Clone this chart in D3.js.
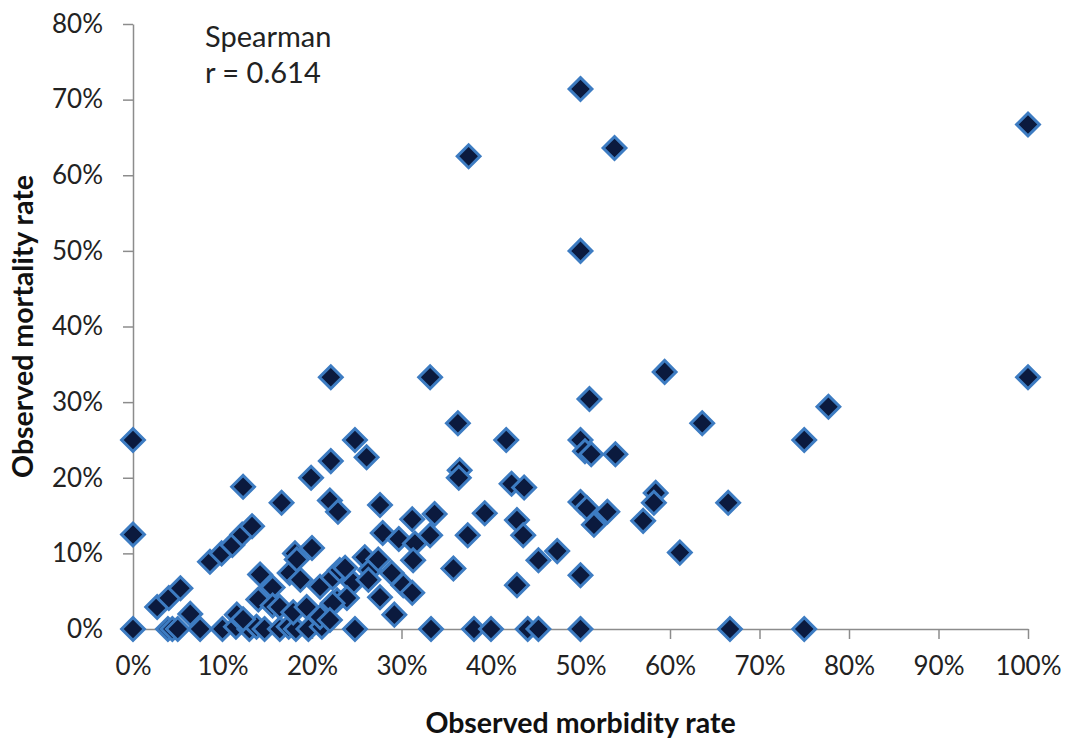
<!DOCTYPE html>
<html>
<head>
<meta charset="utf-8">
<script src="https://cdn.jsdelivr.net/npm/d3@7"></script>
<style>
  html, body { margin: 0; padding: 0; background: #fff; }
  svg { display: block; font-family: Lato, "Open Sans", sans-serif; }
</style>
</head>
<body>
<svg id="chart" width="1070" height="739"></svg>
<script>
// Observed morbidity rate (%) per unit
const morbidity = [
  0, 0, 0, 2.7, 4.0, 5.3, 6.4, 3.9, 4.4, 5.0,
  7.5, 10.0, 11.5, 13.0, 13.8, 14.7, 16.4, 17.4, 18.2, 19.6,
  21.1, 24.8, 33.3, 38.1, 40.0, 44.1, 45.3, 50, 66.7, 75,
  11.6, 12.3, 8.6, 9.9, 11.1, 12.2, 13.3, 12.3, 14.2, 15.6,
  14.0, 15.6, 16.4, 17.9, 19.4, 20.9, 22.8, 17.5, 18.7, 20.9,
  22.3, 23.1, 24.6, 25.9, 26.5, 18.1, 18.3, 20.0, 16.6, 19.9,
  22.1, 22.0, 22.9, 24.8, 26.1, 22.1, 33.2, 27.6, 31.2, 33.7,
  27.9, 29.7, 31.5, 33.2, 31.3, 35.8, 27.4, 28.9, 26.3, 30.2,
  31.2, 27.6, 23.9, 22.3, 29.2, 22.0, 23.7, 39.3, 37.4, 42.9,
  43.6, 45.3, 47.4, 50, 42.9, 36.3, 36.5, 36.4, 41.7, 42.3,
  43.7, 37.5, 50, 50, 53.8, 59.4, 51.0, 50, 50.5, 51.2,
  53.9, 50, 50.7, 53.0, 51.5, 57.0, 58.4, 58.2, 61.1, 63.6,
  66.5, 75, 77.7, 100, 100
];

// Observed mortality rate (%) per unit, same order
const mortality = [
  0, 12.5, 25, 2.9, 4.1, 5.4, 2.0, 0, 0, 0,
  0, 0, 0.3, 0, 0.3, 0, 0, 0.3, 0, 0,
  0.3, 0, 0, 0, 0, 0, 0, 0, 0, 0,
  1.9, 1.3, 8.9, 10.0, 11.1, 12.5, 13.6, 18.8, 7.2, 5.5,
  3.9, 3.1, 2.9, 2.2, 2.9, 1.6, 3.8, 7.4, 6.5, 5.6,
  6.8, 7.8, 6.1, 9.5, 7.8, 10.0, 9.2, 10.7, 16.7, 20.0,
  22.2, 17.0, 15.5, 25.0, 22.7, 33.3, 33.3, 16.4, 14.5, 15.2,
  12.7, 11.9, 11.3, 12.4, 9.1, 8.0, 9.2, 7.4, 6.5, 5.8,
  4.8, 4.2, 4.1, 3.4, 1.9, 1.2, 8.1, 15.3, 12.4, 14.4,
  12.4, 9.1, 10.3, 7.1, 5.8, 27.2, 21.0, 20.0, 25.0, 19.2,
  18.7, 62.5, 71.4, 50, 63.6, 34.0, 30.4, 25, 23.5, 23.1,
  23.1, 16.8, 16.0, 15.5, 13.8, 14.3, 18.0, 16.7, 10.1, 27.2,
  16.7, 25, 29.4, 66.7, 33.3
];

const xTicks = [0, 10, 20, 30, 40, 50, 60, 70, 80, 90, 100];
const yTicks = [0, 10, 20, 30, 40, 50, 60, 70, 80];
const xTitle = "Observed morbidity rate";
const yTitle = "Observed mortality rate";
const noteLines = ["Spearman", "r = 0.614"];

const svg = d3.select("#chart");
const plotLeft = 133, plotRight = 1028, plotTop = 24, plotBottom = 629;

const x = d3.scaleLinear().domain([0, 100]).range([plotLeft, plotRight]);
const y = d3.scaleLinear().domain([0, 80]).range([plotBottom, plotTop]);

const axisColor = "#8c8c8c";
const fmt = d => d + "%";

// X axis
const gx = svg.append("g")
  .attr("transform", `translate(0,${plotBottom})`)
  .call(d3.axisBottom(x).tickValues(xTicks).tickFormat(fmt).tickSize(10).tickSizeOuter(0).tickPadding(18));
gx.select(".domain").attr("stroke", axisColor).attr("stroke-width", 1.5);
gx.selectAll(".tick line").attr("stroke", axisColor).attr("stroke-width", 1.5);
gx.selectAll(".tick text")
  .attr("fill", "#222").attr("font-size", 26).attr("font-family", "Lato, sans-serif");

// Y axis
const gy = svg.append("g")
  .attr("transform", `translate(${plotLeft},0)`)
  .call(d3.axisLeft(y).tickValues(yTicks).tickFormat(fmt).tickSize(10).tickSizeOuter(0).tickPadding(20));
gy.select(".domain").attr("stroke", axisColor).attr("stroke-width", 1.5);
gy.selectAll(".tick line").attr("stroke", axisColor).attr("stroke-width", 1.5);
gy.selectAll(".tick text")
  .attr("fill", "#222").attr("font-size", 26).attr("font-family", "Lato, sans-serif");

// Axis titles
svg.append("text")
  .attr("x", (plotLeft + plotRight) / 2).attr("y", 733)
  .attr("text-anchor", "middle")
  .attr("font-size", 28.5).attr("font-weight", "bold").attr("fill", "#111")
  .text(xTitle);

svg.append("text")
  .attr("transform", `translate(33,${(plotTop + plotBottom) / 2}) rotate(-90)`)
  .attr("text-anchor", "middle")
  .attr("font-size", 28.5).attr("font-weight", "bold").attr("fill", "#111")
  .text(yTitle);

// Correlation note
svg.append("g").selectAll("text").data(noteLines).join("text")
  .attr("x", 205).attr("y", (d, i) => 47 + i * 36)
  .attr("font-size", 29).attr("fill", "#222")
  .text(d => d);

// Diamond markers
const points = morbidity.map((m, i) => ({ m, r: mortality[i] }));
const diamond = d3.symbol().type(d3.symbolSquare).size(260);

svg.append("g").selectAll("path").data(points).join("path")
  .attr("d", diamond)
  .attr("transform", d => `translate(${x(d.m)},${y(d.r)}) rotate(45)`)
  .attr("fill", "#0b1a3e")
  .attr("stroke", "#3d7cc2")
  .attr("stroke-width", 3);
</script>
</body>
</html>
